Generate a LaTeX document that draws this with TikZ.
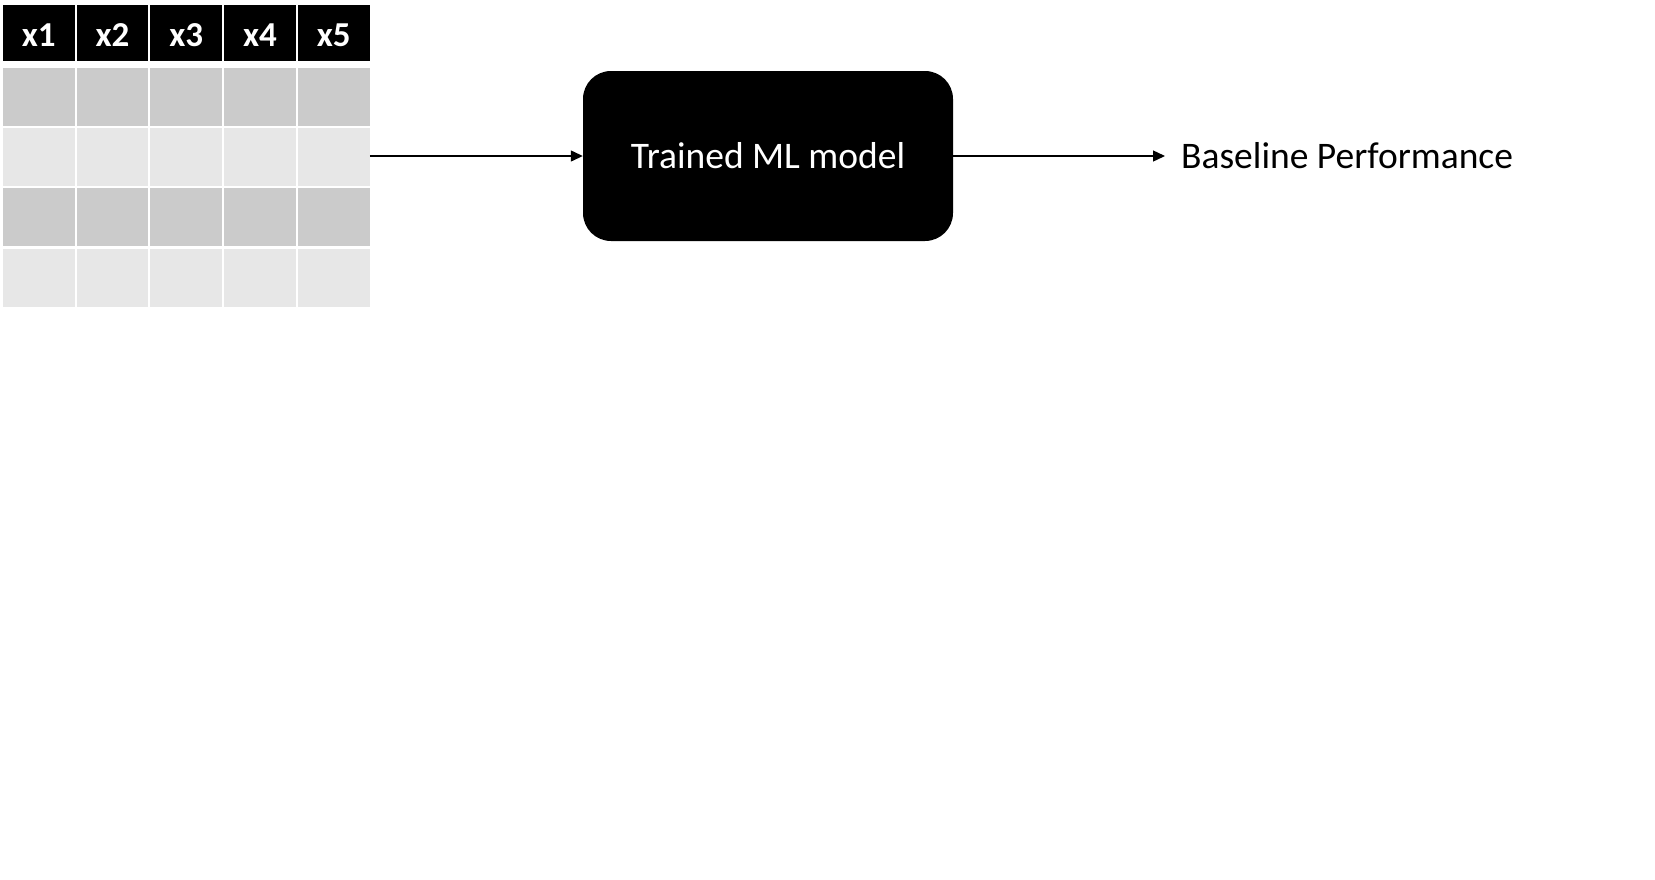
\documentclass[tikz,border=0pt]{standalone}
\usepackage{fontspec}
\setmainfont{Carlito}
\usetikzlibrary{arrows.meta}
\definecolor{rowdark}{HTML}{CBCBCB}
\definecolor{rowlight}{HTML}{E7E7E7}
\tikzset{
  cellbox/.style={rectangle, draw=none, minimum width=71.7pt, minimum height=58pt, inner sep=0pt, anchor=north west},
  headbox/.style={cellbox, fill=black, minimum height=56pt, text=white, font=\bfseries\fontsize{35}{38}\selectfont, text height=26pt, text depth=0pt},
  modelbox/.style={rectangle, rounded corners=28pt, fill=black, text=white, minimum width=370pt, minimum height=170pt, inner sep=0pt, font=\fontsize{37.5}{41}\selectfont},
  plainlabel/.style={font=\fontsize{37.5}{41}\selectfont, inner sep=0pt},
  flowarrow/.style={line width=1.3pt, -{Triangle[length=12pt,width=11pt]}}
}
\begin{document}
\begin{tikzpicture}[x=1pt,y=-1pt]
\useasboundingbox (0,0) rectangle (1655,879);
% header
\foreach \i in {1,...,5} {
  \node[headbox] (h\i) at ({2.7+73.75*(\i-1)},5) {x\i};
}
% data rows
\foreach \j/\c in {1/rowdark,2/rowlight,3/rowdark,4/rowlight} {
  \foreach \i in {1,...,5} {
    \node[cellbox, fill=\c] (c\j\i) at ({2.7+73.75*(\i-1)},{67.7+60.2*(\j-1)}) {};
  }
}
\node[modelbox] (model) at (768,156) {Trained ML model};
\node[plainlabel, anchor=base west] (perf) at (1181,168) {Baseline Performance};
\draw[flowarrow] (c25.east |- model.west) -- (model.west);
\draw[flowarrow] (model.east) -- ([xshift=-16pt]model.east -| perf.west);
\end{tikzpicture}
\end{document}
